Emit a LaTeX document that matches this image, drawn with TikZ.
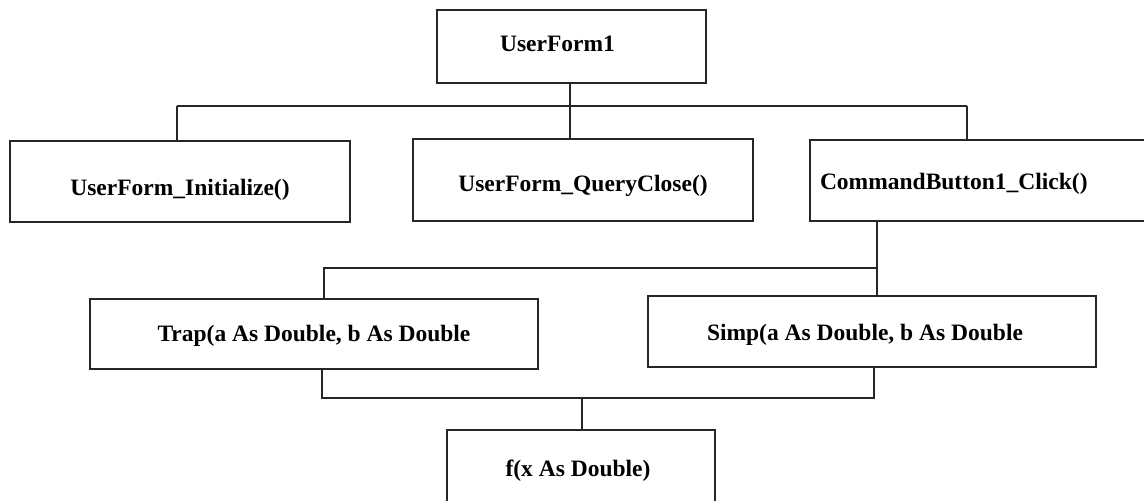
\documentclass[tikz,border=0pt]{standalone}
\usepackage{fontspec}
\setmainfont{Liberation Serif}
\begin{document}
\begin{tikzpicture}[x=1pt,y=-1pt,
  box/.style={draw=black!85, line width=1.6pt, rectangle, inner sep=0pt,
    font=\fontsize{23.5}{28}\selectfont\bfseries, text height=32pt},
  wire/.style={draw=black!85, line width=1.6pt}]
\useasboundingbox (0,0) rectangle (1144,501);
\clip (0,0) rectangle (1144,501);
% boxes
\node[box, minimum width=269, minimum height=73, text depth=23pt] (uf) at (571.5,46.5) {\hspace*{-28pt}UserForm1};
\node[box, minimum width=340, minimum height=81, text depth=5pt] (init) at (180,181.5) {UserForm\_Initialize()};
\node[box, minimum width=340, minimum height=82, text depth=10pt] (qc) at (583,180) {UserForm\_QueryClose()};
\node[box, minimum width=340, minimum height=81, text depth=15pt, text width=320, align=left] (cb) at (980,180.5) {CommandButton1\_Click()};
\node[box, minimum width=448, minimum height=70, text depth=18pt] (trap) at (314,334) {Trap(a As Double, b As Double};
\node[box, minimum width=448, minimum height=71, text depth=15pt] (simp) at (872,331.5) {\hspace*{-14pt}Simp(a As Double, b As Double};
\node[box, minimum width=268, minimum height=80, text depth=20pt] (fx) at (581,470) {\hspace*{-6pt}f(x As Double)};
% bus coordinates
\coordinate (b1l) at (177,106);
\coordinate (b1m) at (570,106);
\coordinate (b1r) at (967,106);
\coordinate (b2l) at (324,268);
\coordinate (b2r) at (877,268);
\coordinate (b3l) at (322,398);
\coordinate (b3m) at (582,398);
\coordinate (b3r) at (874,398);
% level 1
\draw[wire] (b1m |- uf.south) -- (b1m);
\draw[wire] (b1l) -- (b1r);
\draw[wire] (b1l) -- (b1l |- init.north);
\draw[wire] (b1m) -- (b1m |- qc.north);
\draw[wire] (b1r) -- (b1r |- cb.north);
% level 2
\draw[wire] (b2r |- cb.south) -- (b2r |- simp.north);
\draw[wire] (b2r) -- (b2l) -- (b2l |- trap.north);
% level 3
\draw[wire] (b3l |- trap.south) -- (b3l) -- (b3r) -- (b3r |- simp.south);
\draw[wire] (b3m) -- (b3m |- fx.north);
\end{tikzpicture}
\end{document}
